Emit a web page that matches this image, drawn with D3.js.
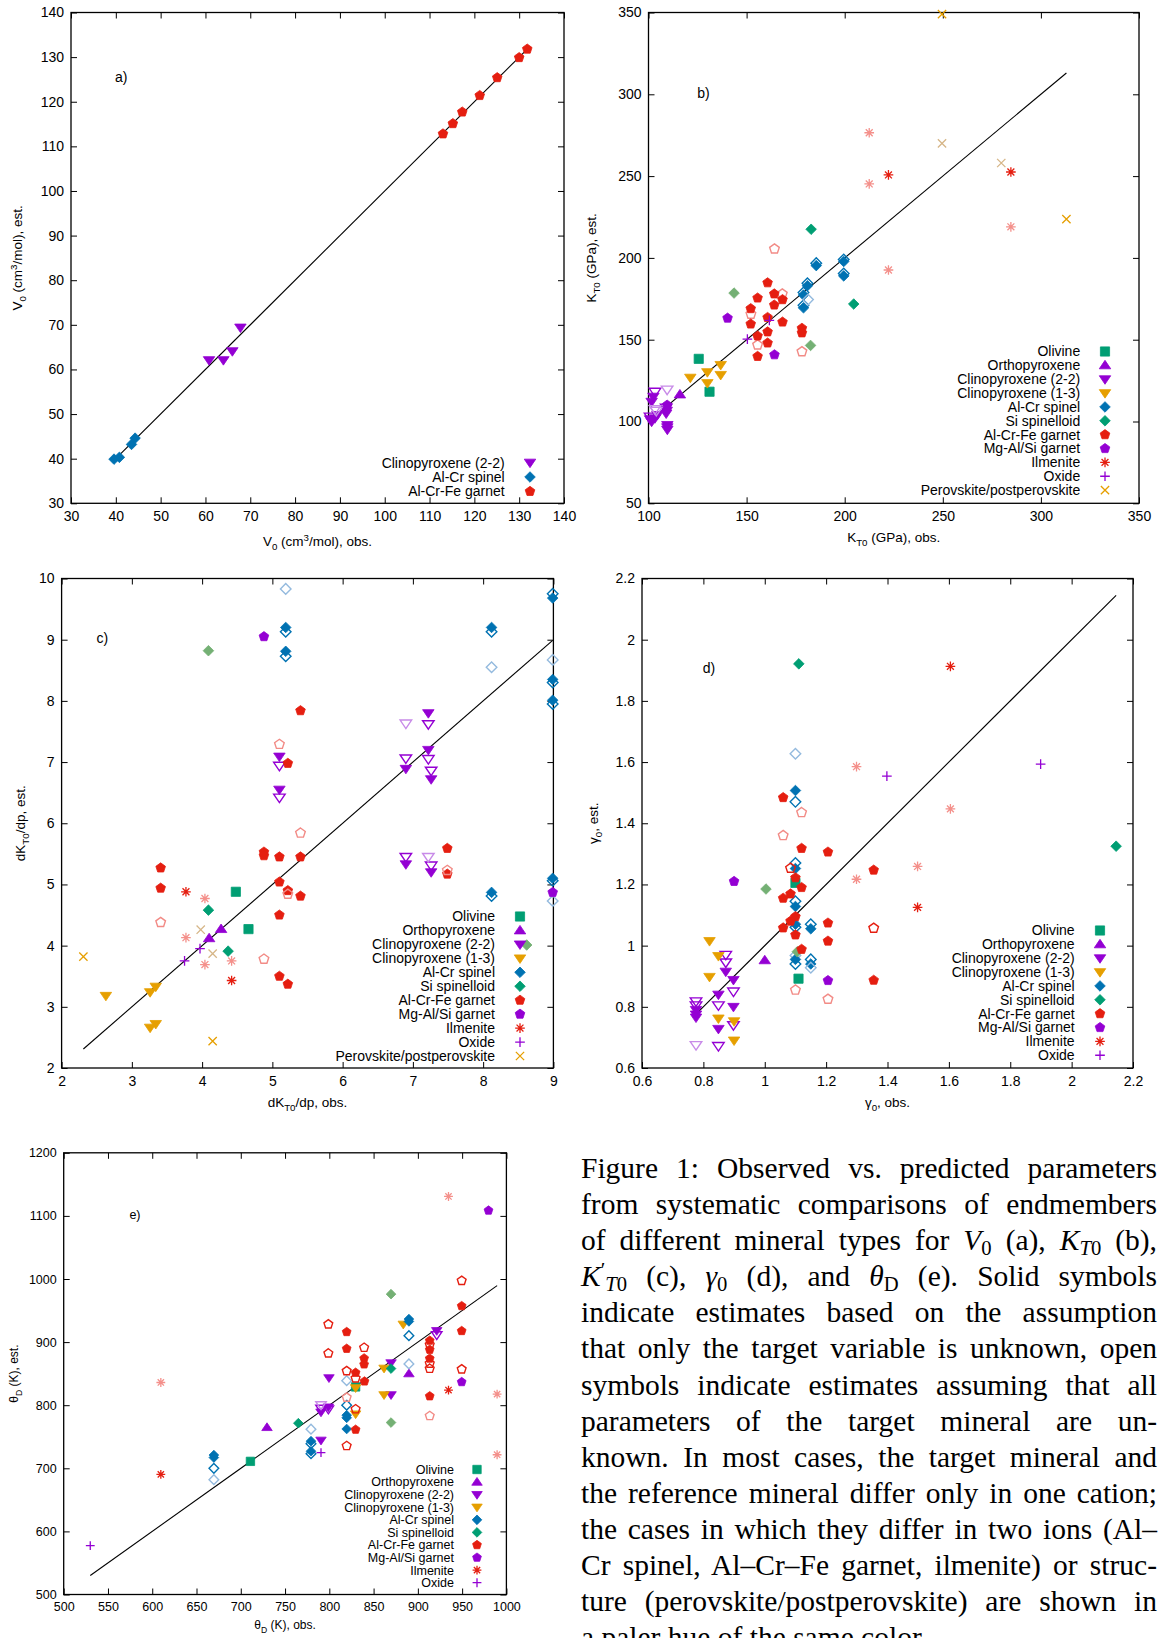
<!DOCTYPE html>
<html>
<head>
<meta charset="utf-8">
<script src="https://cdn.jsdelivr.net/npm/d3@7"></script>
<style>
  body { margin: 0; background: #fff; }
  #caption { position: absolute; left: 581px; top: 1150px; width: 576px;
    font-family: "Liberation Serif", serif; font-size: 29.5px; line-height: 36.1px; color: #000; }
  #caption div { text-align: justify; text-align-last: justify; }
  #caption div.last { text-align-last: left; }
  #caption sub { font-size: 0.7em; line-height: 0; vertical-align: -0.25em; }
  #caption sup { font-size: 0.7em; line-height: 0; vertical-align: 0.45em; }
</style>
</head>
<body>
<script>
// mineral types, in legend order
const typeNames = {
  ol: 'Olivine', opx: 'Orthopyroxene', cpx22: 'Clinopyroxene (2-2)', cpx13: 'Clinopyroxene (1-3)',
  sp: 'Al-Cr spinel', ssp: 'Si spinelloid', grt: 'Al-Cr-Fe garnet', mgrt: 'Mg-Al/Si garnet',
  ilm: 'Ilmenite', ox: 'Oxide', pv: 'Perovskite/postperovskite'
};

// points: [type, style, obs, est]; style s = solid, o = open, p = pale solid, po = pale open
const dataA = [
  ['sp','s',39.6,39.9],['sp','s',40.8,40.3],['sp','s',43.5,43.2],['sp','s',44.3,44.6],
  ['cpx22','s',60.8,62.1],['cpx22','s',64.0,62.1],['cpx22','s',66.0,64.1],['cpx22','s',67.8,69.4],
  ['grt','s',113,112.8],['grt','s',115.2,115.1],['grt','s',117.3,117.7],['grt','s',121.2,121.4],
  ['grt','s',125.1,125.4],['grt','s',130,129.9],['grt','s',131.8,131.8]
];

const dataB = [
  ['ol','s',125.6,138.3],['ol','s',131.1,118.2],
  ['opx','s',116,116.5],
  ['cpx22','s',102.5,115.2],['cpx22','s',101.6,112.1],['cpx22','s',109.3,106.6],['cpx22','s',109,104.9],
  ['cpx22','s',103.3,102],['cpx22','s',101.6,99.9],['cpx22','s',100.8,101.4],['cpx22','s',109.6,97.9],
  ['cpx22','s',109.6,96.5],['cpx22','s',109.6,95],['cpx22','s',104.5,104],
  ['cpx22','o',103.3,118.2],['cpx22','o',100.8,103],['cpx22','o',109,108.5],
  ['cpx22','po',109.5,119.5],['cpx22','po',103.3,107.5],['cpx22','po',104,106.5],
  ['cpx13','s',121.3,126.8],['cpx13','s',130,130.2],['cpx13','s',130,123.5],['cpx13','s',136.8,134.6],['cpx13','s',136.8,128.5],
  ['sp','o',185.5,196.8],['sp','o',199.5,199],['sp','o',199.5,190.5],['sp','o',181,184.5],['sp','o',179,178.8],['sp','o',179,171],
  ['sp','s',185.5,195.3],['sp','s',199.5,197.8],['sp','s',199.5,189],['sp','s',181,183],['sp','s',179,177.3],['sp','s',179,169.5],
  ['sp','po',181.3,174.5],
  ['ssp','s',182.9,217.5],['ssp','p',143.6,178.5],['ssp','p',182.6,146.5],['ssp','s',204.6,171.8],
  ['grt','po',164.2,205.5],['grt','po',168.2,178],['grt','po',152.2,165.6],['grt','po',155.6,146.8],['grt','po',178.2,142.7],
  ['grt','s',160.7,184.8],['grt','s',164.1,178],['grt','s',168.3,174.5],['grt','s',155.6,175.5],['grt','s',164.1,171.2],
  ['grt','s',152.1,169],['grt','s',160.7,163.6],['grt','s',168.3,160.8],['grt','s',152.1,159.6],['grt','s',178.2,157],
  ['grt','s',178.2,154.2],['grt','s',160.7,154.8],['grt','s',155.6,152.3],['grt','s',160.7,148],['grt','s',155.6,139.8],
  ['mgrt','s',140.3,163.2],['mgrt','s',164.2,140.8],['mgrt','s',109.5,110],
  ['ilm','p',212.5,276.5],['ilm','p',212.5,245.2],['ilm','s',222.3,250.7],['ilm','s',284.7,252.5],
  ['ilm','p',284.7,219],['ilm','p',222.3,192.6],
  ['ox','s',161.6,161.8],['ox','s',150.4,150.4],
  ['pv','s',249.6,349],['pv','p',249.6,270],['pv','p',279.8,258],['pv','s',313,223.7]
];

const dataC = [
  ['ol','s',4.48,4.88],['ol','s',4.66,4.27],
  ['opx','s',4.27,4.27],['opx','s',4.10,4.12],
  ['cpx22','s',5.10,7.09],['cpx22','s',5.10,6.55],['cpx22','s',6.90,6.89],['cpx22','s',7.22,7.80],
  ['cpx22','s',7.22,7.20],['cpx22','s',7.26,6.72],['cpx22','s',6.90,5.33],['cpx22','s',7.26,5.20],
  ['cpx22','o',5.10,6.94],['cpx22','o',5.10,6.42],['cpx22','o',6.90,7.06],['cpx22','o',7.22,7.62],
  ['cpx22','o',7.22,7.05],['cpx22','o',7.26,6.86],['cpx22','o',6.90,5.45],['cpx22','o',7.26,5.31],
  ['cpx22','po',6.90,7.63],['cpx22','po',7.22,5.45],
  ['cpx13','s',2.63,3.18],['cpx13','s',3.26,3.24],['cpx13','s',3.34,3.33],['cpx13','s',3.26,2.66],['cpx13','s',3.34,2.72],
  ['sp','po',5.19,9.83],['sp','s',5.19,9.20],['sp','o',5.19,9.13],['sp','s',5.19,8.81],['sp','o',5.19,8.73],
  ['sp','s',8.12,9.20],['sp','o',8.12,9.13],['sp','po',8.12,8.55],['sp','o',8.99,9.75],['sp','s',8.99,9.68],
  ['sp','po',8.99,8.67],['sp','s',8.99,8.35],['sp','o',8.99,8.30],['sp','s',8.99,8.01],['sp','o',8.99,7.95],
  ['sp','s',8.12,4.87],['sp','o',8.12,4.81],['sp','s',8.99,5.10],['sp','o',8.99,5.06],['sp','po',8.99,4.73],
  ['ssp','p',4.09,8.82],['ssp','s',4.09,4.58],['ssp','s',4.37,3.91],['ssp','p',8.62,4.01],
  ['grt','s',5.40,7.84],['grt','s',5.22,6.98],['grt','s',4.88,5.53],['grt','s',4.88,5.47],['grt','s',5.10,5.45],
  ['grt','s',5.40,5.45],['grt','s',7.49,5.59],['grt','s',7.49,5.17],['grt','s',5.10,5.04],['grt','s',5.22,4.90],
  ['grt','s',5.40,4.81],['grt','s',5.10,4.50],['grt','s',3.41,5.27],['grt','s',3.41,4.94],['grt','s',5.10,3.50],
  ['grt','s',5.22,3.37],
  ['grt','po',5.10,7.29],['grt','po',5.40,5.84],['grt','po',7.49,5.23],['grt','po',5.22,4.84],['grt','po',3.41,4.38],['grt','po',4.88,3.78],
  ['mgrt','s',4.88,9.05],['mgrt','s',8.99,4.87],
  ['ilm','s',3.77,4.88],['ilm','s',4.42,3.43],['ilm','p',4.04,4.77],['ilm','p',3.77,4.13],['ilm','p',4.04,3.69],['ilm','p',4.42,3.75],
  ['ox','s',3.97,3.95],['ox','s',3.75,3.75],
  ['pv','s',2.31,3.82],['pv','s',4.15,2.44],['pv','p',3.98,4.26],['pv','p',4.15,3.87]
];

const dataD = [
  ['ol','s',1.1,1.205],['ol','s',1.11,0.892],
  ['opx','s',1.0,0.952],
  ['cpx22','s',0.873,0.915],['cpx22','s',0.898,0.888],['cpx22','s',0.849,0.84],['cpx22','s',0.898,0.8],
  ['cpx22','s',0.849,0.728],['cpx22','s',0.776,0.775],['cpx22','s',0.776,0.79],['cpx22','s',0.776,0.765],
  ['cpx22','o',0.873,0.97],['cpx22','o',0.873,0.945],['cpx22','o',0.898,0.85],['cpx22','o',0.849,0.805],
  ['cpx22','o',0.898,0.74],['cpx22','o',0.776,0.818],['cpx22','o',0.776,0.805],['cpx22','o',0.849,0.672],
  ['cpx22','po',0.776,0.675],
  ['cpx13','s',0.82,1.015],['cpx13','s',0.849,0.966],['cpx13','s',0.82,0.898],['cpx13','s',0.849,0.762],
  ['cpx13','s',0.9,0.753],['cpx13','s',0.9,0.69],
  ['sp','po',1.1,1.627],['sp','s',1.1,1.507],['sp','o',1.1,1.47],['sp','o',1.1,1.27],['sp','s',1.1,1.252],
  ['sp','o',1.1,1.145],['sp','s',1.1,1.128],['sp','s',1.1,1.07],['sp','o',1.1,1.06],['sp','po',1.1,0.968],
  ['sp','s',1.1,0.955],['sp','o',1.1,0.94],['sp','o',1.15,1.07],['sp','s',1.15,1.055],['sp','o',1.15,0.955],
  ['sp','s',1.15,0.94],['sp','po',1.15,0.928],
  ['ssp','s',1.111,1.921],['ssp','s',2.145,1.325],['ssp','p',1.004,1.185],['ssp','p',1.106,0.98],
  ['grt','s',1.06,1.484],['grt','s',1.12,1.318],['grt','s',1.206,1.306],['grt','s',1.355,1.247],['grt','s',1.1,1.222],
  ['grt','s',1.12,1.19],['grt','s',1.06,1.155],['grt','s',1.084,1.169],['grt','s',1.1,1.095],['grt','s',1.084,1.08],
  ['grt','s',1.06,1.058],['grt','s',1.206,1.074],['grt','s',1.1,1.035],['grt','s',1.206,1.015],['grt','s',1.12,0.988],
  ['grt','s',1.355,0.887],
  ['grt','o',1.084,1.253],['grt','o',1.355,1.057],
  ['grt','po',1.12,1.435],['grt','po',1.06,1.36],['grt','po',1.1,0.855],['grt','po',1.206,0.825],
  ['mgrt','s',0.9,1.21],['mgrt','s',1.206,0.886],
  ['ilm','s',1.605,1.913],['ilm','s',1.498,1.125],['ilm','p',1.299,1.585],['ilm','p',1.605,1.447],
  ['ilm','p',1.498,1.259],['ilm','p',1.299,1.217],
  ['ox','s',1.398,1.554],['ox','s',1.899,1.593]
];

const dataE = [
  ['ol','s',710.9,711],['ol','s',829.7,829],
  ['opx','s',729.6,764.8],['opx','s',889.9,850],
  ['cpx22','s',921.3,918],['cpx22','s',869.7,867],['cpx22','s',799.6,843.3],['cpx22','s',869.7,816.4],
  ['cpx22','s',790.6,789],['cpx22','s',790.6,744.4],['cpx22','s',798.9,797],
  ['cpx22','o',921.3,911.4],['cpx22','o',798.9,793.7],['cpx22','o',790.6,795],['cpx22','po',790.6,800.5],
  ['cpx13','s',883.5,928.2],['cpx13','s',861.8,858.5],['cpx13','s',829.7,827.5],['cpx13','s',861.8,816.4],['cpx13','s',829.7,786],
  ['sp','s',669.6,721],['sp','s',669.6,717],['sp','o',669.6,699.9],['sp','po',669.6,682],
  ['sp','s',779.3,743],['sp','s',779.3,727],['sp','o',779.3,739],['sp','o',779.3,723],['sp','po',779.3,762],
  ['sp','s',819.6,784.2],['sp','s',819.6,780],['sp','s',819.6,762.3],['sp','o',819.6,800],['sp','po',819.6,838.9],
  ['sp','s',889.9,936.5],['sp','s',889.9,932.8],['sp','o',889.9,910.2],['sp','po',889.9,865.4],
  ['ssp','s',765,771.5],['ssp','s',869.7,858],['ssp','p',869.7,976],['ssp','p',869.7,772.5],
  ['grt','s',949.5,957.2],['grt','s',819.6,916.1],['grt','s',949.5,917.7],['grt','s',913.4,902.4],['grt','s',913.4,888],
  ['grt','s',913.4,874],['grt','s',819.6,889.6],['grt','s',839.3,874.3],['grt','s',839.3,864.8],['grt','s',829.7,851.6],
  ['grt','s',839.7,837.8],['grt','s',913.4,814.3],['grt','s',829.7,761.3],
  ['grt','o',949.5,997.3],['grt','o',798.9,928.2],['grt','o',798.9,882.2],['grt','o',839.3,891.2],['grt','o',949.5,856.9],
  ['grt','o',819.6,854.2],['grt','o',829.7,842.6],['grt','o',829.7,793.7],['grt','o',819.6,735.5],['grt','o',913.4,896],
  ['grt','o',913.4,866],['grt','o',913.4,858],
  ['grt','po',819.6,812.2],['grt','po',913.4,783.1],
  ['mgrt','s',979.8,1108.6],['mgrt','s',949.5,836.8],
  ['ilm','p',609.7,836],['ilm','s',609.7,690.4],['ilm','p',934.6,1130.8],['ilm','s',934.6,824],
  ['ilm','p',989.5,817.5],['ilm','p',989.5,721.5],
  ['ox','s',530,577.5],['ox','s',790.6,724.9]
];

// axis tick labels
const ticksA = d3.range(30, 141, 10);
const ticksBx = [100, 150, 200, 250, 300, 350];
const ticksBy = [50, 100, 150, 200, 250, 300, 350];
const ticksC = [2, 3, 4, 5, 6, 7, 8, 9];
const ticksCy = [2, 3, 4, 5, 6, 7, 8, 9, 10];
const ticksD = [0.6, 0.8, 1, 1.2, 1.4, 1.6, 1.8, 2, 2.2];
const ticksEx = [500, 550, 600, 650, 700, 750, 800, 850, 900, 950, 1000];
const ticksEy = [500, 600, 700, 800, 900, 1000, 1100, 1200];

const legendA = ['cpx22', 'sp', 'grt'];
const legendB = ['ol','opx','cpx22','cpx13','sp','ssp','grt','mgrt','ilm','ox','pv'];
const legendC = legendB;
const legendD = ['ol','opx','cpx22','cpx13','sp','ssp','grt','mgrt','ilm','ox'];
const legendE = legendD;

// marker look for each type
const look = {
  ol:    { shape: 'square',   color: '#009e73', pale: '#6fb28f' },
  opx:   { shape: 'triUp',    color: '#9400d3', pale: '#c88be8' },
  cpx22: { shape: 'triDown',  color: '#9400d3', pale: '#c88be8' },
  cpx13: { shape: 'triDown',  color: '#e69f00', pale: '#d6b688' },
  sp:    { shape: 'diamond',  color: '#0072b2', pale: '#94bade' },
  ssp:   { shape: 'diamond',  color: '#009e73', pale: '#74b074' },
  grt:   { shape: 'pentagon', color: '#e51e10', pale: '#f28b86' },
  mgrt:  { shape: 'pentagon', color: '#9400d3', pale: '#c88be8' },
  ilm:   { shape: 'star',     color: '#e51e10', pale: '#f4908b' },
  ox:    { shape: 'plus',     color: '#9400d3', pale: '#c88be8' },
  pv:    { shape: 'cross',    color: '#e69f00', pale: '#d6b688' }
};
const lineShapes = new Set(['star', 'plus', 'cross']);

function shapePath(shape, r) {
  switch (shape) {
    case 'square': return `M${-r},${-r}H${r}V${r}H${-r}Z`;
    case 'triUp': return `M0,${-r*1.1}L${r*1.25},${r*0.75}L${-r*1.25},${r*0.75}Z`;
    case 'triDown': return `M0,${r*1.1}L${r*1.25},${-r*0.75}L${-r*1.25},${-r*0.75}Z`;
    case 'diamond': { const k = r*1.15; return `M0,${-k}L${k},0L0,${k}L${-k},0Z`; }
    case 'pentagon': {
      const k = r*1.1;
      return d3.range(5).map((i, j) => {
        const a = (-90 + 72*i) * Math.PI/180;
        return (j ? 'L' : 'M') + (k*Math.cos(a)).toFixed(2) + ',' + (k*Math.sin(a)).toFixed(2);
      }).join('') + 'Z';
    }
    case 'plus': return `M${-r*1.05},0H${r*1.05}M0,${-r*1.05}V${r*1.05}`;
    case 'cross': return `M${-r*0.9},${-r*0.9}L${r*0.9},${r*0.9}M${-r*0.9},${r*0.9}L${r*0.9},${-r*0.9}`;
    case 'star': {
      const a = r*1.05, b = r*0.75;
      return `M${-a},0H${a}M0,${-a}V${a}M${-b},${-b}L${b},${b}M${-b},${b}L${b},${-b}`;
    }
  }
}

function drawMarker(sel, type, style, r) {
  const lk = look[type];
  const pale = style === 'p' || style === 'po';
  const col = pale ? lk.pale : lk.color;
  const open = style === 'o' || style === 'po';
  const p = sel.append('path').attr('d', shapePath(lk.shape, r));
  if (lineShapes.has(lk.shape)) {
    p.attr('fill', 'none').attr('stroke', col).attr('stroke-width', 1.3);
  } else if (open) {
    p.attr('fill', 'none').attr('stroke', col).attr('stroke-width', 1.4);
  } else {
    p.attr('fill', col).attr('stroke', col).attr('stroke-width', 0.8);
  }
  return p;
}

// label segments: [text, 'sub'|'sup'|undefined]
function richText(t, segs, fs) {
  let cur = 0;
  segs.forEach(([s, kind]) => {
    const target = kind === 'sub' ? 0.3*fs : kind === 'sup' ? -0.38*fs : 0;
    t.append('tspan').attr('dy', target - cur)
      .attr('font-size', kind ? fs*0.72 : fs).text(s);
    cur = target;
  });
}

const svg = d3.select('body').append('svg')
  .attr('width', 1158).attr('height', 1638)
  .style('position', 'absolute').style('left', 0).style('top', 0)
  .attr('font-family', '"Liberation Sans", Arial, sans-serif');

const fmt = d => String(+d.toFixed(2));

function panel(cfg) {
  const { data, box, xDom, yDom, xTicks, yTicks, fs, r, legend, leg, xLabel, yLabel, xLabY, yLabX, tag } = cfg;
  const x = d3.scaleLinear().domain(xDom).range([box[0], box[1]]);
  const y = d3.scaleLinear().domain(yDom).range([box[3], box[2]]);
  const g = svg.append('g');

  const axes = [
    [d3.axisBottom(x).tickValues(xTicks).tickFormat(fmt).tickPadding(8), `translate(0,${box[3]})`],
    [d3.axisTop(x).tickValues(xTicks).tickFormat(''), `translate(0,${box[2]})`],
    [d3.axisLeft(y).tickValues(yTicks).tickFormat(fmt).tickPadding(7), `translate(${box[0]},0)`],
    [d3.axisRight(y).tickValues(yTicks).tickFormat(''), `translate(${box[1]},0)`]
  ];
  axes.forEach(([ax, tr]) => {
    const a = g.append('g').attr('transform', tr).call(ax.tickSize(-6));
    a.select('.domain').remove();
    a.selectAll('line').attr('stroke', '#000').attr('stroke-width', 1);
    a.selectAll('text').attr('font-family', '"Liberation Sans", Arial, sans-serif')
      .attr('font-size', fs).attr('fill', '#000');
  });
  g.append('rect').attr('x', box[0]).attr('y', box[2])
    .attr('width', box[1] - box[0]).attr('height', box[3] - box[2])
    .attr('fill', 'none').attr('stroke', '#000').attr('stroke-width', 1.3);

  // 1:1 line over the observed range
  const ext = d3.extent(data, d => d[2]);
  g.append('path')
    .attr('d', d3.line()([[x(ext[0]), y(ext[0])], [x(ext[1]), y(ext[1])]]))
    .attr('stroke', '#000').attr('stroke-width', 1.1).attr('fill', 'none');

  // points
  data.forEach(d => {
    const m = g.append('g').attr('transform', `translate(${x(d[2])},${y(d[3])})`);
    drawMarker(m, d[0], d[1], r);
  });

  // legend
  legend.forEach((t, i) => {
    const yy = leg.y0 + i*leg.dy;
    g.append('text').attr('x', leg.tx).attr('y', yy).attr('dy', '0.35em')
      .attr('text-anchor', 'end').attr('font-size', fs).attr('fill', '#000').text(typeNames[t]);
    const m = g.append('g').attr('transform', `translate(${leg.sx},${yy})`);
    drawMarker(m, t, 's', r);
  });

  // axis titles
  const xt = g.append('text').attr('x', (box[0] + box[1]) / 2).attr('y', xLabY)
    .attr('text-anchor', 'middle').attr('font-size', fs - 0.5).attr('fill', '#000');
  richText(xt, xLabel, fs - 0.5);
  const ym = (box[2] + box[3]) / 2;
  const yt = g.append('text').attr('transform', `translate(${yLabX},${ym}) rotate(-90)`)
    .attr('text-anchor', 'middle').attr('font-size', fs - 0.5).attr('fill', '#000');
  richText(yt, yLabel, fs - 0.5);

  g.append('text').attr('x', x(tag[1])).attr('y', y(tag[2])).attr('dy', '0.35em')
    .attr('text-anchor', 'middle').attr('font-size', fs).attr('fill', '#000').text(tag[0]);
}

panel({
  data: dataA, box: [71, 564, 12.5, 503.3], xDom: [30, 140], yDom: [30, 140],
  xTicks: ticksA, yTicks: ticksA, fs: 14, r: 4.6, legend: legendA,
  leg: { tx: 504.6, sx: 530, y0: 462.6, dy: 14.4 },
  xLabel: [['V'], ['0', 'sub'], [' (cm'], ['3', 'sup'], ['/mol), obs.']], xLabY: 546,
  yLabel: [['V'], ['0', 'sub'], [' (cm'], ['3', 'sup'], ['/mol), est.']], yLabX: 22,
  tag: ['a)', 41.2, 125.5]
});
panel({
  data: dataB, box: [648.5, 1139, 12.5, 503.3], xDom: [100, 350], yDom: [50, 350],
  xTicks: ticksBx, yTicks: ticksBy, fs: 14, r: 4.6, legend: legendB,
  leg: { tx: 1080.2, sx: 1105, y0: 351.5, dy: 13.86 },
  xLabel: [['K'], ['T0', 'sub'], [' (GPa), obs.']], xLabY: 542,
  yLabel: [['K'], ['T0', 'sub'], [' (GPa), est.']], yLabX: 596,
  tag: ['b)', 128, 301]
});
panel({
  data: dataC, box: [61.6, 553.4, 578.5, 1068], xDom: [2, 9], yDom: [2, 10],
  xTicks: ticksC, yTicks: ticksCy, fs: 14, r: 4.6, legend: legendC,
  leg: { tx: 495, sx: 520, y0: 916.5, dy: 13.95 },
  xLabel: [['dK'], ['T0', 'sub'], ['/dp, obs.']], xLabY: 1107,
  yLabel: [['dK'], ['T0', 'sub'], ['/dp, est.']], yLabX: 25,
  tag: ['c)', 2.58, 9.02]
});
panel({
  data: dataD, box: [642, 1133, 578.5, 1068], xDom: [0.6, 2.2], yDom: [0.6, 2.2],
  xTicks: ticksD, yTicks: ticksD, fs: 14, r: 4.6, legend: legendD,
  leg: { tx: 1074.6, sx: 1100, y0: 930.5, dy: 13.86 },
  xLabel: [['γ'], ['0', 'sub'], [', obs.']], xLabY: 1107,
  yLabel: [['γ'], ['0', 'sub'], [', est.']], yLabX: 598,
  tag: ['d)', 0.818, 1.907]
});
panel({
  data: dataE, box: [63.7, 506.4, 1152.8, 1594.5], xDom: [500, 1000], yDom: [500, 1200],
  xTicks: ticksEx, yTicks: ticksEy, fs: 12.5, r: 4.2, legend: legendE,
  leg: { tx: 454, sx: 477, y0: 1469.5, dy: 12.58 },
  xLabel: [['θ'], ['D', 'sub'], [' (K), obs.']], xLabY: 1629,
  yLabel: [['θ'], ['D', 'sub'], [' (K), est.']], yLabX: 18,
  tag: ['e)', 580.5, 1101.8]
});

// caption, one block per printed line
const captionLines = [
  'Figure 1: Observed vs. predicted parameters',
  'from systematic comparisons of endmembers',
  'of different mineral types for <i>V</i><sub>0</sub> (a), <i>K</i><sub><i>T</i>0</sub> (b),',
  '<i>K</i><sup>′</sup><sub><i>T</i>0</sub> (c), <i>γ</i><sub>0</sub> (d), and <i>θ</i><sub>D</sub> (e). Solid symbols',
  'indicate estimates based on the assumption',
  'that only the target variable is unknown, open',
  'symbols indicate estimates assuming that all',
  'parameters of the target mineral are un-',
  'known. In most cases, the target mineral and',
  'the reference mineral differ only in one cation;',
  'the cases in which they differ in two ions (Al–',
  'Cr spinel, Al–Cr–Fe garnet, ilmenite) or struc-',
  'ture (perovskite/postperovskite) are shown in',
  'a paler hue of the same color.'
];
d3.select('body').append('div').attr('id', 'caption')
  .selectAll('div').data(captionLines).join('div')
  .attr('class', (d, i) => i === captionLines.length - 1 ? 'last' : null)
  .html(d => d);
</script>
</body>
</html>
